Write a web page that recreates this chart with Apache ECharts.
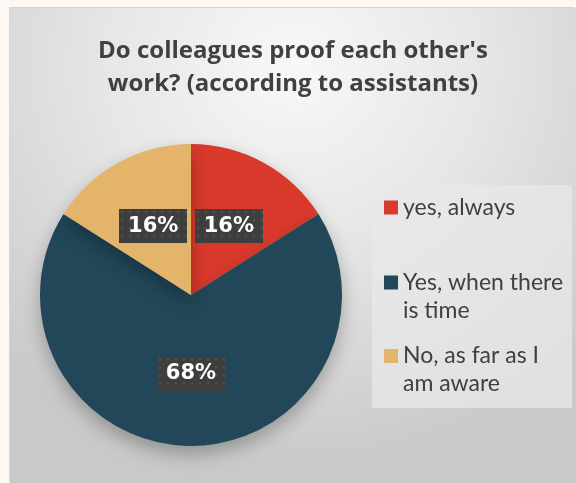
<!DOCTYPE html>
<html>
<head>
<meta charset="utf-8">
<script src="https://cdn.jsdelivr.net/npm/echarts@6/dist/echarts.min.js"></script>
<style>
html,body{margin:0;padding:0;width:576px;height:483px;background:#fef8f2;overflow:hidden;}
#frame{position:absolute;left:10px;top:8px;width:566px;height:475px;
 background:radial-gradient(ellipse 75% 85% at 50% 12%, #f8f8f8 0%, #e6e6e6 45%, #c9c9c9 100%);
 box-shadow:-1px -1px 0 #d9d6d2;}
#chart{position:absolute;left:0;top:0;width:566px;height:475px;}
</style>
</head>
<body>
<div id="frame"><div id="chart"></div></div>
<script>
var titleLines = ["Do colleagues proof each other's", "work? (according to assistants)"];
var categories = ["yes, always", "Yes, when there is time", "No, as far as I am aware"];
var legendLabels = ["yes, always", "Yes, when there\nis time", "No, as far as I\nam aware"];
var values = [16, 68, 16];
var colors = ["#d93a2c", "#224759", "#e4b46a"];

function makePattern(w, h) {
  var c = document.createElement('canvas');
  c.width = w; c.height = h;
  var g = c.getContext('2d');
  g.fillStyle = '#3e3e3e';
  g.fillRect(0, 0, w, h);
  g.fillStyle = '#555555';
  for (var y = 2; y < h; y += 8) {
    for (var x = 2; x < w; x += 8) {
      g.fillRect(x, y, 2, 2);
    }
  }
  return c;
}
var pattern = makePattern(68, 34);

var chart = echarts.init(document.getElementById('chart'), null, {renderer: 'canvas'});

var legendTops = [185.5, 232.5, 306];
var legends = categories.map(function (name, i) {
  var multi = legendLabels[i].indexOf('\n') >= 0;
  return {
    orient: 'vertical',
    left: 374,
    top: legendTops[i],
    padding: 0,
    itemWidth: 14,
    itemHeight: 14,
    icon: 'rect',
    selectedMode: false,
    data: [name],
    formatter: function () { return multi ? '\n' + legendLabels[i] : legendLabels[i]; },
    textStyle: {
      fontFamily: 'Lato',
      fontSize: 23,
      color: '#404040',
      lineHeight: 28
    },
    itemGap: 6
  };
});

var option = {
  animation: false,
  title: {
    text: titleLines.join('\n'),
    left: 'center',
    top: 22,
    textStyle: {
      fontFamily: 'Open Sans',
      fontWeight: 'bold',
      fontSize: 24,
      lineHeight: 33,
      color: '#404040'
    }
  },
  graphic: [{
    type: 'rect',
    shape: {x: 362, y: 177, width: 200, height: 223},
    style: {fill: 'rgba(232,232,232,0.75)'},
    z: -1,
    silent: true
  }],
  legend: legends,
  series: [{
    type: 'pie',
    center: [181, 287],
    radius: [0, 151],
    startAngle: 90,
    clockwise: true,
    data: categories.map(function (n, i) {
      return {name: n, value: values[i], itemStyle: {color: colors[i]}};
    }),
    itemStyle: {
      shadowBlur: 18,
      shadowOffsetY: 8,
      shadowColor: 'rgba(0,0,0,0.28)'
    },
    label: {
      show: true,
      position: 'inside',
      formatter: '{d}%',
      fontFamily: 'DejaVu Sans',
      fontWeight: 'bold',
      fontSize: 21,
      lineHeight: 20,
      color: '#ffffff',
      backgroundColor: {image: pattern},
      padding: [7, 9, 7, 9],
      shadowBlur: 6,
      shadowOffsetX: 2,
      shadowOffsetY: 3,
      shadowColor: 'rgba(0,0,0,0.45)'
    },
    labelLine: {show: false},
    emphasis: {disabled: true}
  }]
};
chart.setOption(option);
</script>
</body>
</html>
